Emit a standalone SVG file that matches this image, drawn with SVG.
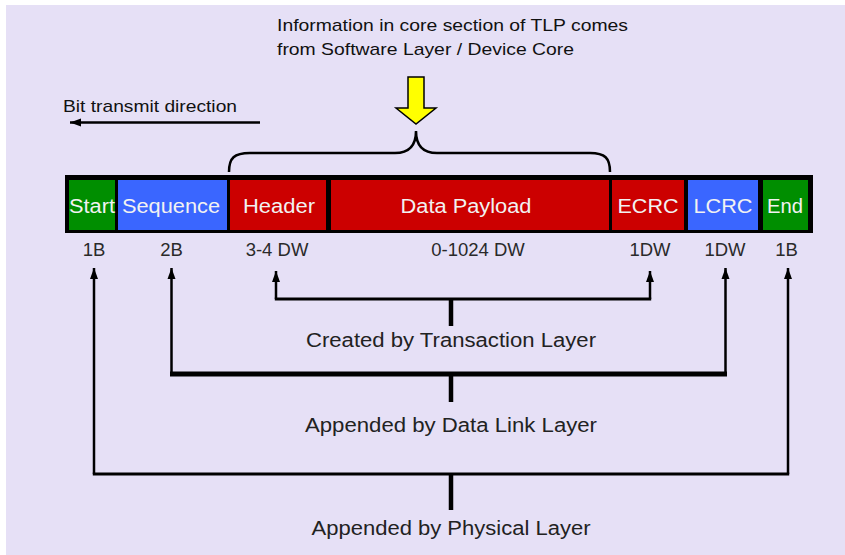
<svg xmlns="http://www.w3.org/2000/svg" width="845" height="555" viewBox="0 0 845 555">
  <style>
    .bg { fill: #E6E0F6; }
    .box { stroke: none; }
    .green { fill: #008E00; }
    .blue { fill: #3A66FF; }
    .red { fill: #CC0000; }
    .btxt { font-family: "Liberation Sans", Arial, sans-serif; font-size: 20px; fill: #F2F2F2; text-anchor: middle; }
    .size { font-family: "Liberation Sans", Arial, sans-serif; font-size: 18.5px; fill: #2A2A2A; text-anchor: middle; }
    .lbl { font-family: "Liberation Sans", Arial, sans-serif; font-size: 20px; fill: #222; text-anchor: middle; }
    .note { font-family: "Liberation Sans", Arial, sans-serif; font-size: 17px; fill: #111; }
    .conn { stroke: #000; fill: none; stroke-width: 2.5; }
    .stem { stroke: #000; fill: none; stroke-width: 4.5; }
  </style>
  <defs>
    <marker id="ah" markerUnits="userSpaceOnUse" markerWidth="12" markerHeight="12" viewBox="0 0 12 12" refX="11" refY="6" orient="auto">
      <path d="M0,2 L11,6 L0,10 Z" fill="#000"/>
    </marker>
  </defs>

  <rect x="0" y="0" width="845" height="555" fill="#FFFFFF"/>
  <rect class="bg" x="6" y="5" width="839" height="550"/>

  <g id="top-note">
    <text class="note" x="277" y="31" textLength="351" lengthAdjust="spacingAndGlyphs">Information in core section of TLP comes</text>
    <text class="note" x="277" y="55" textLength="297" lengthAdjust="spacingAndGlyphs">from Software Layer / Device Core</text>
  </g>

  <g id="bit-direction">
    <text class="note" x="63" y="112" textLength="174" lengthAdjust="spacingAndGlyphs">Bit transmit direction</text>
    <line x1="260" y1="122.5" x2="70" y2="122.5" stroke="#000" stroke-width="2.5" marker-end="url(#ah)"/>
  </g>

  <g id="yellow-arrow">
    <polygon points="408,77 424,77 424,108 436,108 416,124 396,108 408,108" fill="#FFFF00" stroke="#000" stroke-width="1.5" stroke-linejoin="miter"/>
  </g>

  <g id="brace">
    <path d="M229,172 C229,158 234,153 250,153 L395,153 C410,153 416,145 416,131 C416,145 422,153 437,153 L590,153 C605,153 610,158 610,172" fill="none" stroke="#000" stroke-width="2.5"/>
  </g>

  <g id="tlp-bar">
    <rect x="65" y="175" width="748" height="58" fill="#000"/>
    <g id="start"><rect class="box green" x="69" y="180" width="46" height="50"/><text class="btxt" x="92" y="212.5" textLength="46" lengthAdjust="spacingAndGlyphs">Start</text></g>
    <g id="sequence"><rect class="box blue" x="118" y="180" width="109" height="50"/><text class="btxt" x="171" y="212.5" textLength="98" lengthAdjust="spacingAndGlyphs">Sequence</text></g>
    <g id="header"><rect class="box red" x="230" y="180" width="96" height="50"/><text class="btxt" x="279" y="212.5" textLength="72" lengthAdjust="spacingAndGlyphs">Header</text></g>
    <g id="payload"><rect class="box red" x="331" y="180" width="278" height="50"/><text class="btxt" x="466" y="212.5" textLength="131" lengthAdjust="spacingAndGlyphs">Data Payload</text></g>
    <g id="ecrc"><rect class="box red" x="612" y="180" width="72" height="50"/><text class="btxt" x="648" y="212.5" textLength="61" lengthAdjust="spacingAndGlyphs">ECRC</text></g>
    <g id="lcrc"><rect class="box blue" x="688" y="180" width="70" height="50"/><text class="btxt" x="723" y="212.5" textLength="59" lengthAdjust="spacingAndGlyphs">LCRC</text></g>
    <g id="end"><rect class="box green" x="763" y="180" width="45" height="50"/><text class="btxt" x="785" y="212.5" textLength="36" lengthAdjust="spacingAndGlyphs">End</text></g>
  </g>

  <g id="sizes">
    <text class="size" x="94" y="255.5">1B</text>
    <text class="size" x="171.5" y="255.5">2B</text>
    <text class="size" x="277" y="255.5">3-4 DW</text>
    <text class="size" x="478" y="255.5">0-1024 DW</text>
    <text class="size" x="650" y="255.5">1DW</text>
    <text class="size" x="725" y="255.5">1DW</text>
    <text class="size" x="786.5" y="255.5">1B</text>
  </g>

  <g id="connectors">
    <path class="conn" d="M276,299 L276,271" marker-end="url(#ah)"/>
    <path class="conn" d="M650,299 L650,271" marker-end="url(#ah)"/>
    <line x1="274.8" y1="299" x2="651.2" y2="299" stroke="#000" stroke-width="3"/>
    <line class="stem" x1="451" y1="299" x2="451" y2="326"/>

    <path class="conn" d="M171.5,374 L171.5,268" marker-end="url(#ah)"/>
    <path class="conn" d="M725.5,374 L725.5,268" marker-end="url(#ah)"/>
    <line x1="170" y1="374" x2="727" y2="374" stroke="#000" stroke-width="5"/>
    <line class="stem" x1="451" y1="374" x2="451" y2="402"/>

    <path class="conn" d="M94,474 L94,268" marker-end="url(#ah)"/>
    <path class="conn" d="M788,474 L788,268" marker-end="url(#ah)"/>
    <line x1="92.8" y1="474" x2="789.2" y2="474" stroke="#000" stroke-width="3"/>
    <line class="stem" x1="451" y1="474" x2="451" y2="510"/>
  </g>

  <g id="layer-labels">
    <text id="transaction-label" class="lbl" x="451" y="347" textLength="290" lengthAdjust="spacingAndGlyphs">Created by Transaction Layer</text>
    <text id="datalink-label" class="lbl" x="451" y="431.5" textLength="292" lengthAdjust="spacingAndGlyphs">Appended by Data Link Layer</text>
    <text id="physical-label" class="lbl" x="451" y="535" textLength="279" lengthAdjust="spacingAndGlyphs">Appended by Physical Layer</text>
  </g>
</svg>
